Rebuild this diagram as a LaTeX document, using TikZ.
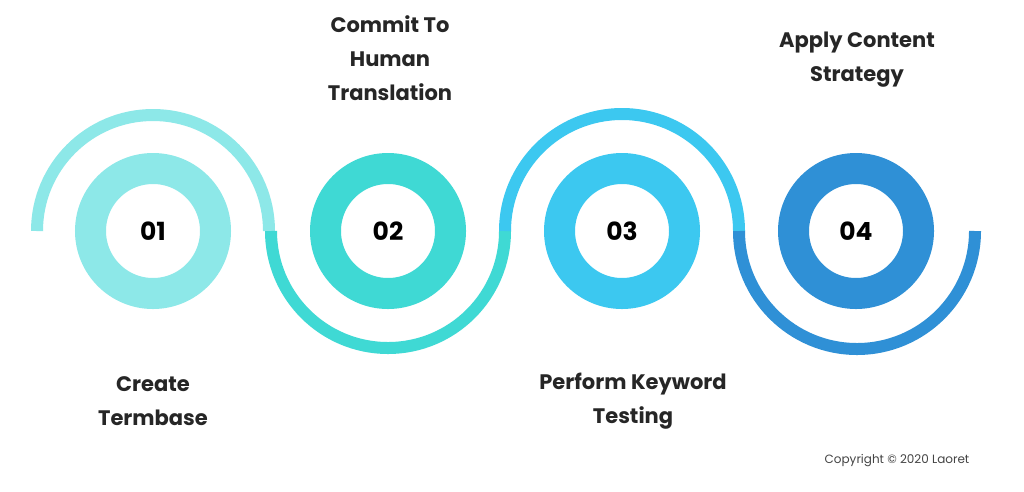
\documentclass[tikz,border=0pt]{standalone}
\usepackage{fontspec}
\setmainfont{Poppins}
\definecolor{cA}{HTML}{8DE8E8}
\definecolor{cB}{HTML}{3FD9D4}
\definecolor{cC}{HTML}{3CC8F0}
\definecolor{cD}{HTML}{2F90D6}
\definecolor{cG}{HTML}{444444}
\begin{document}
\begin{tikzpicture}[x=1pt,y=-1pt,
  ring/.style={circle,draw=#1,line width=31pt,minimum size=125pt,inner sep=0pt,font=\fontsize{25}{25}\selectfont\bfseries,text=black},
  wave/.style={draw=#1,line width=12pt},
  lbl/.style={align=center,font=\fontsize{21}{34}\selectfont\bfseries,text=black!85}]
\useasboundingbox (0,0) rectangle (1024,491);
\fill[white] (0,0) rectangle (1024,491);
\draw[wave=cA] (37,231) arc[start angle=180,end angle=360,radius=116];
\draw[wave=cB] (271,231) arc[start angle=180,end angle=0,radius=117];
\draw[wave=cC] (505,231) arc[start angle=180,end angle=360,radius=117];
\draw[wave=cD] (739,231) arc[start angle=180,end angle=0,radius=118];
\node[ring=cA] (r1) at (153,231) {01};
\node[ring=cB] (r2) at (388,231) {02};
\node[ring=cC] (r3) at (622,231) {03};
\node[ring=cD] (r4) at (856,231) {04};
\node[lbl] (t1) at (153,401) {Create\\Termbase};
\node[lbl] (t2) at (390,58) {Commit To\\Human\\Translation};
\node[lbl] (t3) at (633,401) {Perform Keyword\\Testing};
\node[lbl] (t4) at (857,60) {Apply Content\\Strategy};
\node[font=\fontsize{12}{12}\selectfont,text=cG] (cp) at (897,461) {Copyright © 2020 Laoret};
\end{tikzpicture}
\end{document}
